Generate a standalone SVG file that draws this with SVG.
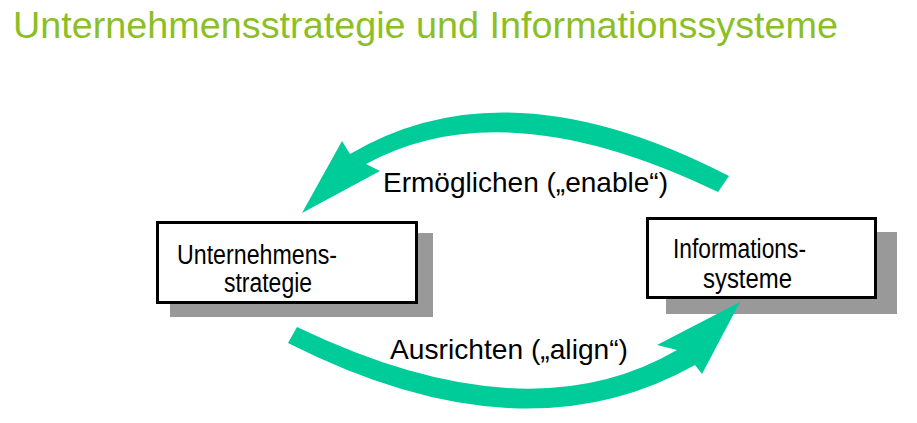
<svg xmlns="http://www.w3.org/2000/svg" width="917" height="423" viewBox="0 0 917 423">
  <style>
    .title { font-family: "Liberation Sans", Arial, sans-serif; font-size: 37px; fill: #8cbf26; }
    .label { font-family: "Liberation Sans", Arial, sans-serif; font-size: 28px; fill: #000; }
    .node-text { font-family: "Liberation Sans", Arial, sans-serif; font-size: 27px; fill: #000; }
    .shadow { fill: #999999; }
    .box { fill: #ffffff; stroke: #000000; stroke-width: 3; }
    .flow { fill: #00cc99; }
  </style>

  <rect width="917" height="423" fill="#ffffff"/>

  <text class="title" x="13" y="38" textLength="825" lengthAdjust="spacingAndGlyphs">Unternehmensstrategie und Informationssysteme</text>

  <!-- strategy node -->
  <g id="node-unternehmensstrategie">
    <rect class="shadow" x="170" y="233" width="263" height="84"/>
    <rect class="box" x="157.5" y="222.5" width="259" height="80"/>
    <text class="node-text" x="177" y="264" textLength="160" lengthAdjust="spacingAndGlyphs">Unternehmens-</text>
    <text class="node-text" x="224" y="292" textLength="88" lengthAdjust="spacingAndGlyphs">strategie</text>
  </g>

  <!-- information systems node -->
  <g id="node-informationssysteme">
    <rect class="shadow" x="666" y="232" width="231" height="82"/>
    <rect class="box" x="647.5" y="218.5" width="228" height="79"/>
    <text class="node-text" x="673" y="258" textLength="133" lengthAdjust="spacingAndGlyphs">Informations-</text>
    <text class="node-text" x="703" y="288" textLength="89" lengthAdjust="spacingAndGlyphs">systeme</text>
  </g>

  <!-- curved block arrows between the two nodes -->
  <g id="connectors">
    <g id="edge-enable">
      <path class="flow" d="M729,176 Q506.5,61 350,154 L342,141 L302,213 L380,171 L366,164 Q504,88.5 718,192 Z"/>
      <text class="label" x="383" y="192" textLength="285" lengthAdjust="spacingAndGlyphs">Ermöglichen („enable“)</text>
    </g>
    <g id="edge-align">
      <path class="flow" d="M297,327 Q527,437.5 677,350 L657,345 L740,302 L702,374 L695,365 Q522.5,462 288,343 Z"/>
      <text class="label" x="390" y="359" textLength="238" lengthAdjust="spacingAndGlyphs">Ausrichten („align“)</text>
    </g>
  </g>
</svg>
